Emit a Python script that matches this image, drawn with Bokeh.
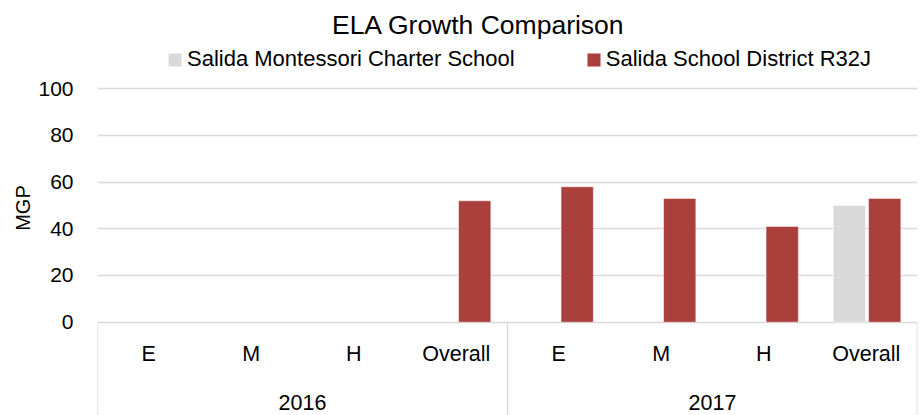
import math
from bokeh.plotting import figure
from bokeh.models import FactorRange, ColumnDataSource, FixedTicker, Legend, LegendItem, Label
from bokeh.transform import dodge
from bokeh.core.properties import value
from bokeh.embed import file_html
from bokeh.resources import INLINE

# ---- data ----
title_text = "ELA Growth Comparison"
years = ["2016", "2017"]
levels = ["E", "M", "H", "Overall"]
series_names = ["Salida Montessori Charter School", "Salida School District R32J"]
nan = float("nan")
charter = [nan, nan, nan, nan, nan, nan, nan, 50]
district = [nan, nan, nan, 52, 58, 53, 41, 53]
y_ticks = [0, 20, 40, 60, 80, 100]
y_label = "MGP"

FONT = "Liberation Sans"
CHARTER_COLOR = "#D9D9D9"
DISTRICT_COLOR = "#AA3F3C"
GRID_COLOR = "#D9D9D9"

factors = [(y, l) for y in years for l in levels]

x_range = FactorRange(factors=factors, range_padding=0, group_padding=0,
                      subgroup_padding=0, factor_padding=0)
Y0, Y1 = -39.96, 137.77
p = figure(width=922, height=415, x_range=x_range, y_range=(Y0, Y1),
           output_backend="svg", toolbar_location=None, x_axis_location=None,
           min_border_left=97, min_border_right=5, min_border_top=0, min_border_bottom=0)
p.outline_line_color = None
p.background_fill_color = "white"
p.border_fill_color = "white"

def valid(vals):
    xs = [f for f, v in zip(factors, vals) if not math.isnan(v)]
    ys = [v for v in vals if not math.isnan(v)]
    return ColumnDataSource(dict(x=xs, top=ys))

src_c = valid(charter)
src_d = valid(district)

r_c = p.vbar(x=dodge("x", -0.165, range=p.x_range), top="top", width=0.315, bottom=0,
             source=src_c, fill_color=CHARTER_COLOR, line_color="white", line_alpha=0.5)
r_d = p.vbar(x=dodge("x", 0.18, range=p.x_range), top="top", width=0.315, bottom=0,
             source=src_d, fill_color=DISTRICT_COLOR, line_color="white", line_alpha=0.5)

# grid
p.xgrid.visible = False
p.ygrid.ticker = FixedTicker(ticks=y_ticks)
p.ygrid.grid_line_color = GRID_COLOR
p.ygrid.grid_line_width = 1.5

# y axis
p.yaxis.ticker = FixedTicker(ticks=y_ticks)
p.yaxis.axis_line_color = None
p.yaxis.major_tick_line_color = None
p.yaxis.minor_tick_line_color = None
p.yaxis.major_tick_out = 0
p.yaxis.major_tick_in = 0
p.yaxis.major_label_standoff = 24
p.yaxis.major_label_text_font = FONT
p.yaxis.major_label_text_font_size = "21px"
p.yaxis.major_label_text_color = "black"
p.yaxis.axis_label = y_label
p.yaxis.axis_label_text_font = FONT
p.yaxis.axis_label_text_font_size = "20px"
p.yaxis.axis_label_text_font_style = "normal"
p.yaxis.axis_label_text_color = "black"
p.yaxis.axis_label_standoff = 1

# category axis drawn by hand
bounds = [i * len(levels) for i in range(len(years) + 1)]
p.segment(x0=bounds, y0=[0] * len(bounds), x1=bounds, y1=[Y0] * len(bounds),
          line_color=GRID_COLOR, line_width=1.5)

lvl_src = ColumnDataSource(dict(x=factors, text=[f[1] for f in factors]))
p.text(x="x", y=-13.8, text="text", source=lvl_src, text_align="center",
       text_baseline="middle", text_font=value(FONT), text_font_size="21.5px",
       text_color="black")
yr_src = ColumnDataSource(dict(x=[i * len(levels) + len(levels) / 2 for i in range(len(years))],
                               text=years))
p.text(x="x", y=-34.2, text="text", source=yr_src, text_align="center",
       text_baseline="middle", text_font=value(FONT), text_font_size="21.5px",
       text_color="black")

# title
p.add_layout(Label(x=381, y=391, x_units="screen", y_units="screen", text=title_text,
                   text_align="center", text_baseline="alphabetic", text_font=FONT,
                   text_font_size="26.5px", text_color="black"))

# legend
legend = Legend(items=[LegendItem(label=series_names[0], renderers=[r_c]),
                       LegendItem(label=series_names[1], renderers=[r_d])],
                orientation="horizontal", location=(69, 343),
                glyph_width=17, glyph_height=17, label_standoff=4, spacing=70,
                padding=0, margin=0, border_line_color=None, background_fill_alpha=0,
                label_text_font=FONT, label_text_font_size="22px", label_text_color="black")
p.add_layout(legend)

open("out.html", "w").write(file_html(p, INLINE))
